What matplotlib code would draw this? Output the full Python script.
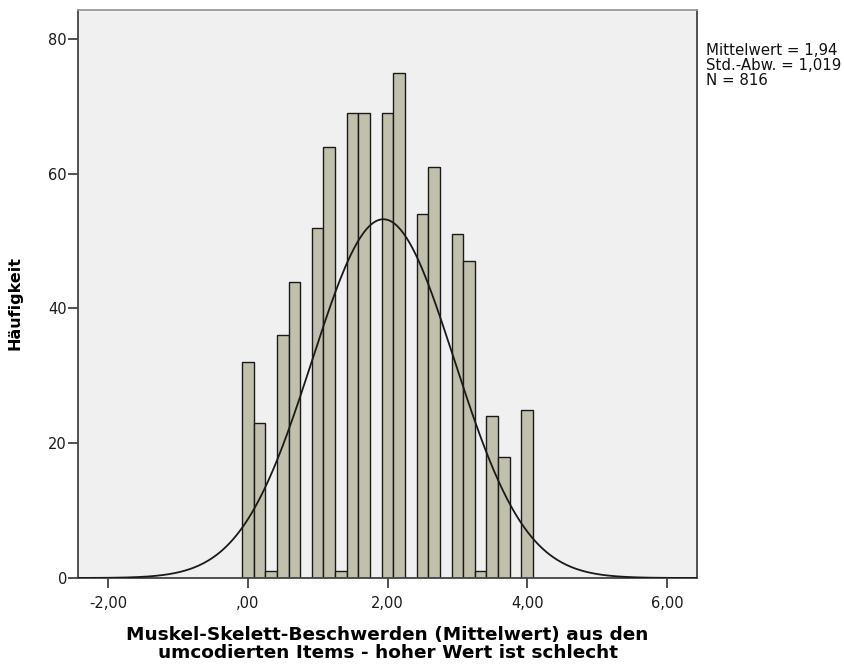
#!/usr/bin/env python

import numpy as np
import matplotlib
matplotlib.use("Agg")
import matplotlib.pyplot as plt

# bins: centres at 0, 1/6, ..., 4 (mean of 6 items)
bin_centres = np.arange(25) / 6.0
counts = [32, 23, 1, 36, 44, 0, 52, 64, 1, 69, 69, 0, 69, 75, 0,
          54, 61, 0, 51, 47, 1, 24, 18, 0, 25]
mean_val = 1.94
std_val = 1.019
n_total = 816

x_ticks = [-2, 0, 2, 4, 6]
x_ticklabels = ["-2,00", ",00", "2,00", "4,00", "6,00"]
y_ticks = [0, 20, 40, 60, 80]

plt.rcParams['font.family'] = ['DejaVu Sans']

fig = plt.figure(figsize=(8.44, 6.69), dpi=100)
ax = fig.add_axes([78/844, 1 - 578/669, (697-78)/844, (578-10)/669])
ax.set_facecolor("#f0f0f0")

width = 1/6.0
ax.bar(bin_centres, counts, width=width, color="#c1c0ad",
       edgecolor="#1a1a1a", linewidth=1.0, zorder=2)

# normal curve
xx = np.linspace(-2.43, 6.43, 400)
dens = np.exp(-0.5*((xx - mean_val)/std_val)**2) / (std_val*np.sqrt(2*np.pi))
ax.plot(xx, dens*n_total*width, color="#1a1a1a", linewidth=1.3, zorder=3)

ax.set_xlim(-2.43, 6.43)
ax.set_ylim(0, 84.3)
ax.set_xticks(x_ticks)
ax.set_xticklabels(x_ticklabels)
ax.set_yticks(y_ticks)
ax.tick_params(axis='both', direction='out', length=7, width=1.2,
               color="#333333", labelsize=10.5, labelcolor="#1a1a1a")
ax.tick_params(axis='x', pad=6)
ax.tick_params(axis='y', pad=1)

for side in ['left', 'bottom', 'right']:
    ax.spines[side].set_color("#444444")
    ax.spines[side].set_linewidth(1.3)
ax.spines['top'].set_color("#999999")
ax.spines['top'].set_linewidth(1.3)

ax.set_ylabel("Häufigkeit", fontsize=11.5, fontweight='bold')
ax.yaxis.set_label_coords(-0.09, 0.484)
ax.set_xlabel("Muskel-Skelett-Beschwerden (Mittelwert) aus den\n"
              "umcodierten Items - hoher Wert ist schlecht",
              fontsize=13.3, fontweight='bold', linespacing=0.98)
ax.xaxis.set_label_coords(0.5, -0.085)

fig.text(706/844, 1 - 43/669,
         "Mittelwert = 1,94\nStd.-Abw. = 1,019\nN = 816",
         fontsize=10.8, va='top', ha='left', linespacing=0.98, color="#111111")

fig.savefig("out.png", dpi=100)
